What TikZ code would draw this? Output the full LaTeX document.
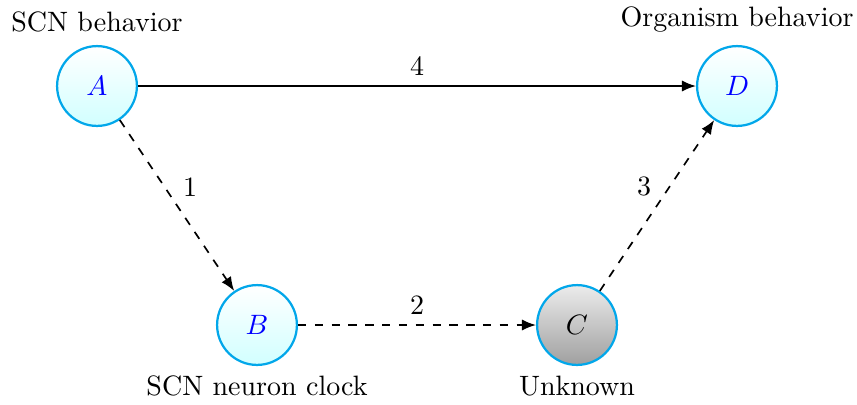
\documentclass[tikz,border=0pt]{standalone}
\usetikzlibrary{arrows.meta}
\begin{document}
\begin{tikzpicture}[x=0.357pt,y=-0.357pt,
  st/.style={circle,draw=cyan!95!blue,thick,minimum size=28.5pt,inner sep=0pt,top color=white,bottom color=cyan!18,font=\normalsize},
  gr/.style={circle,draw=cyan!95!blue,thick,minimum size=28.5pt,inner sep=0pt,top color=gray!15,bottom color=gray!75,font=\normalsize},
  ed/.style={-{Latex[length=5pt,width=4pt]},semithick},
  lb/.style={font=\normalsize}]
\useasboundingbox (0,0) rectangle (857,404);
\node[st] (A) at (97,86) {$\color{blue}A$};
\node[st] (B) at (257,325) {$\color{blue}B$};
\node[gr] (C) at (577,325) {$C$};
\node[st] (D) at (737,86) {$\color{blue}D$};
\node[lb] (lA) at (97,22) {SCN behavior};
\node[lb] (lD) at (737,20) {Organism behavior};
\node[lb] (lB) at (257,386) {SCN neuron clock};
\node[lb] (lC) at (577,386) {Unknown};
\draw[ed] (A) -- node[lb,pos=0.5,above=0pt] {4} (D);
\draw[ed,dashed] (A) -- node[lb,pos=0.39,right=3pt] {1} (B);
\draw[ed,dashed] (B) -- node[lb,pos=0.5,above=0pt] {2} (C);
\draw[ed,dashed] (C) -- node[lb,pos=0.61,left=3pt] {3} (D);
\end{tikzpicture}
\end{document}
